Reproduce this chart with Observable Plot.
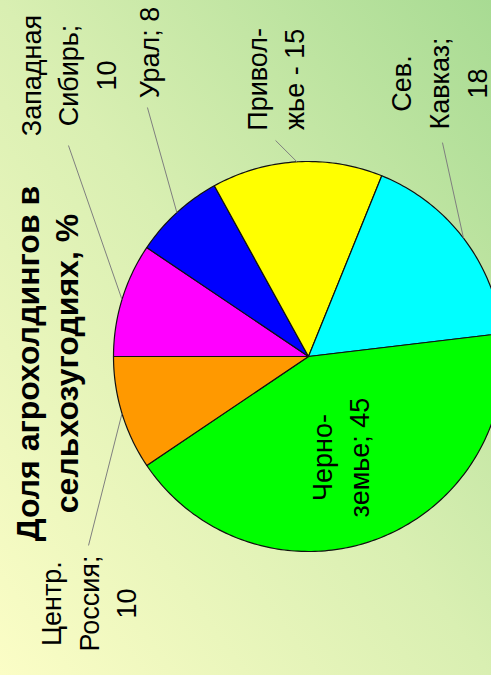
<!DOCTYPE html>
<html>
<head>
<meta charset="utf-8">
<script src="https://cdn.jsdelivr.net/npm/d3@7"></script>
<script src="https://cdn.jsdelivr.net/npm/@observablehq/plot@0.6"></script>
<style>
  html, body { margin: 0; padding: 0; }
  #chart {
    width: 491px; height: 675px; overflow: hidden;
    background: linear-gradient(to top right, #fbfdc6 0%, #d9efb2 50%, #a8db93 100%);
  }
  #chart svg { display: block; background: transparent; }
</style>
</head>
<body>
<div id="chart"></div>
<script>
// ---- data ----
const regions = ["Западная Сибирь", "Урал", "Приволжье", "Сев. Кавказ", "Черноземье", "Центр. Россия"];
const values = [10, 8, 15, 18, 45, 10];
const colors = ["#ff00ff", "#0000ff", "#ffff00", "#00ffff", "#00ff00", "#ff9900"];
const labels = ["Западная\nСибирь;\n10", "Урал; 8", "Привол-\nжье - 15", "Сев.\nКавказ;\n18", "Черно-\nземье; 45", "Центр.\nРоссия;\n10"];
const title = "Доля агрохолдингов в\nсельхозугодиях, %";

// ---- layout (unit-radius coordinates) ----
const labelPos = [[-1.242, 1.441], [-0.831, 1.559], [-0.180, 1.421], [0.658, 1.400], [0.153, -0.518], [-1.139, -1.267]];
const leaderStart = [[-1.231, 1.082], [-0.826, 1.277], [-0.169, 1.108], [0.687, 1.097], null, [-1.128, -0.969]];

const total = d3.sum(values);
let angle = Math.PI; // start pointing left, go clockwise
const slices = values.map((v, i) => {
  const a0 = angle, a1 = angle - v / total * 2 * Math.PI;
  angle = a1;
  const n = Math.max(4, Math.ceil((a0 - a1) / (Math.PI / 180)));
  const pts = [{x: 0, y: 0}];
  for (let k = 0; k <= n; k++) {
    const a = a0 + (a1 - a0) * k / n;
    pts.push({x: Math.cos(a), y: Math.sin(a)});
  }
  pts.push({x: 0, y: 0});
  return {region: regions[i], color: colors[i], pts, mid: (a0 + a1) / 2};
});

const labelData = regions.map((r, i) => ({text: labels[i], x: labelPos[i][0], y: labelPos[i][1]}));
const leaders = [];
slices.forEach((s, i) => {
  if (!leaderStart[i]) return;
  leaders.push({x1: leaderStart[i][0], y1: leaderStart[i][1], x2: Math.cos(s.mid), y2: Math.sin(s.mid)});
});

const plot = Plot.plot({
  width: 491,
  height: 675,
  margin: 0,
  style: {background: "transparent", fontFamily: "'Liberation Sans', Arial, sans-serif"},
  x: {domain: [-1, 1], range: [113, 503], axis: null},
  y: {domain: [-1, 1], range: [551, 161], axis: null},
  marks: [
    ...slices.map(s => Plot.line(s.pts, {x: "x", y: "y", fill: s.color, stroke: "#111", strokeWidth: 1.2, curve: "linear-closed"})),
    Plot.link(leaders, {x1: "x1", y1: "y1", x2: "x2", y2: "y2", stroke: "#7f7f7f", strokeWidth: 1}),
    Plot.text(labelData, {x: "x", y: "y", text: "text", rotate: -90, fontSize: 27, lineHeight: 1.4, textAnchor: "middle", lineAnchor: "middle", fill: "#000"}),
    Plot.text([title], {x: -1.345, y: -0.036, text: d => d, rotate: -90, fontSize: 32, fontWeight: "bold", lineHeight: 1.22, textAnchor: "middle", lineAnchor: "middle", fill: "#000"}),
    Plot.text(["о", "у"], {x: [0.99, 0.99], y: [1.735, -0.62], text: d => d, rotate: -90, fontSize: 27, fill: "#0000ee", textAnchor: "middle", lineAnchor: "middle"})
  ]
});
document.getElementById("chart").appendChild(plot);
</script>
</body>
</html>
